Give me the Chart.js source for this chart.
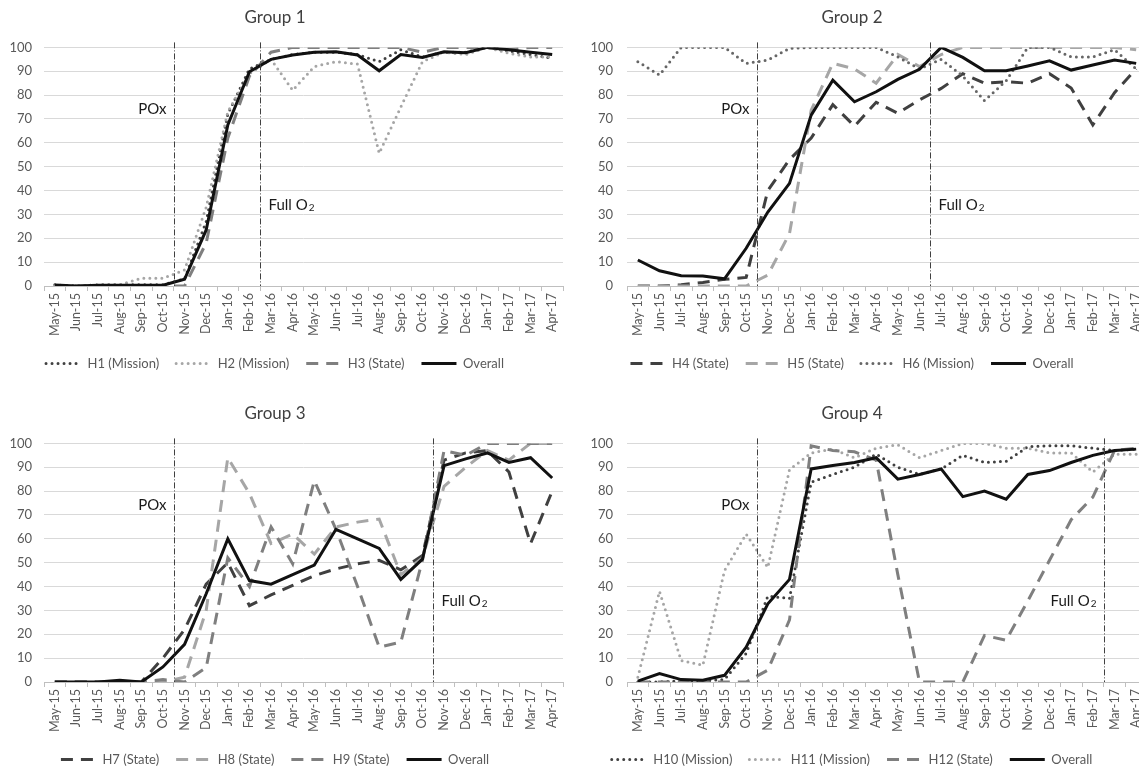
<!DOCTYPE html>
<html>
<head>
<meta charset="utf-8">
<script src="https://cdn.jsdelivr.net/npm/chart.js@4.4.0/dist/chart.umd.min.js"></script>
<style>
html, body { margin:0; padding:0; background:#fff; overflow:hidden; width:1139px; height:767px; position:relative; }
canvas { position:absolute; }
</style>
</head>
<body>
<canvas id="g1" width="583" height="380" style="left:-13px;top:0px"></canvas>
<canvas id="g2" width="590" height="380" style="left:557px;top:0px"></canvas>
<canvas id="g3" width="583" height="380" style="left:-13px;top:396px"></canvas>
<canvas id="g4" width="590" height="380" style="left:557px;top:396px"></canvas>
<script>
let meses = ["May-15","Jun-15","Jul-15","Aug-15","Sep-15","Oct-15","Nov-15","Dec-15","Jan-16","Feb-16","Mar-16","Apr-16",
"May-16","Jun-16","Jul-16","Aug-16","Sep-16","Oct-16","Nov-16","Dec-16","Jan-17","Feb-17","Mar-17","Apr-17"]

let eixoY = [0,10,20,30,40,50,60,70,80,90,100]

let g1H1 = [0.5,0,0.5,0.5,0.5,0.5,3,27,72,91,95,97,98,98,97,94,99,96,98,98,100,98.5,97,95.5]
let g1H2 = [0,0,0.5,0.5,3.2,3.2,6.7,33,73,89,95,82,92,94,93,55.6,75,94,98,97,100,97.5,96,96]
let g1H3 = [0,0,0,0,0,0,0,18,62,88,98,100,100,100,100,100,100,98,100,100,100,99,100,100]
let g1Geral = [0.4,0,0.3,0.3,0.3,0.3,2.8,23.5,67.5,89.8,95,96.8,98,98.2,96.8,90.2,97,95.8,98.2,97.8,100,99,98,97]

let g2H4 = [0,0,0.5,1.5,2.8,3.6,40,53,62,76,67,77,72.4,78,82.8,89,85,85.6,85,89,83,67.5,81,91]
let g2H5 = [0,0,0,0,0,0,4.6,22,73.7,93.3,91,85,97,92,97,100,100,100,100,100,100,100,100,99]
let g2H6 = [94,88.4,100,100,100,93.3,94.7,99.6,100,100,100,100,96,91,95,88,77.7,86,100,100,96,96,99,91]
let g2Geral = [10.9,6.4,4.3,4.2,3,15.8,31,43,71.6,86.3,77.2,81.4,86.6,90.8,100,95.8,90.2,90.2,92.2,94.4,90.5,92.6,94.7,93.3]

let g3H7 = [0,0,0,0,0,10,22,41,50,32,36.5,40.5,44.6,47.4,49.5,51,47,53,93,96,97,88,58,80]
let g3H8 = [0,0,0,0,0,0,2,30,94,79,58,62,53.6,65,67,68.3,45,52,82,90,97,93,100,100]
let g3H9 = [0,0,0,0,0,1,0,6,52,40,65,49.5,84.4,64,40,14.6,16.7,51,97,95,100,100,100,100]
let g3Geral = [0,0,0,0.7,0,6.3,15.8,37,60,42.5,41,45,49,64,60,56,43,51.5,90.7,93.5,96,92,94,85.5]

let g4H10 = [0,0,0.5,0.5,1,12,36,35,83.7,87,90,95.5,90,87,89.3,95,92,92.5,98.6,99,99,98,97,97.6]
let g4H11 = [2,38,9,7,46.7,62,48,89,96,97.6,94,98,99.4,94,97,100,100,98,98,96,96,88,95.5,95.5]
let g4H12 = [0,0,0,0,0,0,5,26,99,97,96.5,93,45,0,0,0,19.5,17.5,34,51,68,77.5,97,98]
let g4Geral = [0.4,3.5,1,0.7,2.8,14.6,32.8,43,89.3,90.7,92,94,85,87,89.3,77.7,80,76.6,87,88.6,92,95,97,97.6]

let escuro = "#404040"
let medio = "#7f7f7f"
let claro = "#a6a6a6"

function serie(nome, dados, cor, tipo, ordem){
let s = {label:nome, data:dados, borderColor:cor, backgroundColor:cor, borderWidth:3,
pointRadius:0, pointHoverRadius:0, tension:0, fill:false, order:ordem, borderJoinStyle:"miter"}
if(tipo == "ponto"){
s.borderDash = [0,6]
s.borderCapStyle = "round"
}else if(tipo == "traco"){
s.borderDash = [12,8]
s.borderCapStyle = "butt"
}else{
s.borderDash = []
s.borderCapStyle = "butt"
}
return s
}

// legenda com o mesmo traço da linha
function legendaLinhas(chart){
let itens = Chart.defaults.plugins.legend.labels.generateLabels(chart)
itens.forEach(i => {
let ds = chart.data.datasets[i.datasetIndex]
i.lineDash = ds.borderDash
i.lineCap = ds.borderCapStyle
i.lineWidth = ds.borderWidth
i.strokeStyle = ds.borderColor
})
return itens
}

let marcos = {
id:"marcos",
afterDatasetsDraw(chart, args, opts){
let x = chart.scales.x
let y = chart.scales.y
let ctx = chart.ctx
let passo = x.getPixelForValue(1) - x.getPixelForValue(0)
ctx.save()
opts.lista.forEach(m => {
let px = Math.round(x.getPixelForValue(m.indice) - passo/2) + 0.5
ctx.strokeStyle = "#404040"
ctx.lineWidth = 1
ctx.setLineDash([6,2,1,2])
ctx.beginPath()
ctx.moveTo(px, chart.chartArea.top - 5)
ctx.lineTo(px, chart.chartArea.bottom)
ctx.stroke()
ctx.setLineDash([])
let py = y.getPixelForValue(m.altura)
ctx.fillStyle = "#1a1a1a"
ctx.textBaseline = "middle"
ctx.textAlign = "left"
ctx.font = "15px Lato"
let w1 = ctx.measureText(m.texto).width
ctx.font = "10px Lato"
let w2 = m.sub ? ctx.measureText(m.sub).width + 1 : 0
let x0 = m.lado == "esq" ? px - 8 - w1 - w2 : px + 8
ctx.font = "15px Lato"
ctx.fillText(m.texto, x0, py)
if(m.sub){
ctx.font = "10px Lato"
ctx.fillText(m.sub, x0 + w1 + 1, py + 3)
}
})
ctx.restore()
}
}

function criarGrafico(id, titulo, series, larguraY, padY, padDir, lista){

new Chart(document.getElementById(id),{
type:"line",
data:{ labels:meses, datasets:series },
plugins:[marcos],
options:{
responsive:false,
animation:false,
events:[],
layout:{ padding:{left:0, right:padDir, top:0, bottom:0} },
plugins:{
marcos:{ lista:lista },
tooltip:{ enabled:false },
title:{
display:true,
text:titulo,
color:"#404040",
font:{family:"Lato", size:17, weight:"normal"},
padding:{top:7, bottom:20}
},
legend:{
position:"bottom",
labels:{
usePointStyle:true,
pointStyle:"line",
pointStyleWidth:35,
boxHeight:13,
padding:17,
color:"#595959",
font:{family:"Lato", size:13},
generateLabels:legendaLinhas,
sort:(a,b) => a.datasetIndex - b.datasetIndex
}
}
},
scales:{
x:{
offset:true,
grid:{ display:true, drawOnChartArea:false, drawTicks:true, tickLength:5, offset:true, color:"#bfbfbf" },
border:{ display:true, color:"#bfbfbf" },
ticks:{ autoSkip:false, maxRotation:90, minRotation:90, padding:2, color:"#595959", font:{family:"Lato", size:12.5} },
afterFit(s){ s.height = 54; s.paddingLeft = 0; s.paddingRight = 0 }
},
y:{
min:0,
max:100,
afterBuildTicks(s){ s.ticks = eixoY.map(v => ({value:v})) },
grid:{ color:"#d9d9d9", drawTicks:false },
border:{ display:false },
ticks:{ padding:padY, color:"#595959", font:{family:"Lato", size:13} },
afterFit(s){ s.width = larguraY; s.paddingTop = 0; s.paddingBottom = 0 }
}
}
}
})

}

criarGrafico("g1", "Group 1", [
serie("H1 (Mission)", g1H1, escuro, "ponto", 3),
serie("H2 (Mission)", g1H2, claro, "ponto", 2),
serie("H3 (State)", g1H3, medio, "traco", 1),
serie("Overall", g1Geral, "#111", "linha", 0)
], 57, 12, 7, [
{indice:6, texto:"POx", lado:"esq", altura:74},
{indice:10, texto:"Full O", sub:"2", lado:"dir", altura:34}
])

criarGrafico("g2", "Group 2", [
serie("H4 (State)", g2H4, escuro, "traco", 3),
serie("H5 (State)", g2H5, claro, "traco", 2),
serie("H6 (Mission)", g2H6, "#666666", "ponto", 1),
serie("Overall", g2Geral, "#111", "linha", 0)
], 70, 14, 0, [
{indice:6, texto:"POx", lado:"esq", altura:74},
{indice:14, texto:"Full O", sub:"2", lado:"dir", altura:34}
])

criarGrafico("g3", "Group 3", [
serie("H7 (State)", g3H7, escuro, "traco", 3),
serie("H8 (State)", g3H8, claro, "traco", 2),
serie("H9 (State)", g3H9, medio, "traco", 1),
serie("Overall", g3Geral, "#111", "linha", 0)
], 57, 12, 7, [
{indice:6, texto:"POx", lado:"esq", altura:74},
{indice:18, texto:"Full O", sub:"2", lado:"dir", altura:34}
])

criarGrafico("g4", "Group 4", [
serie("H10 (Mission)", g4H10, escuro, "ponto", 3),
serie("H11 (Mission)", g4H11, claro, "ponto", 2),
serie("H12 (State)", g4H12, medio, "traco", 1),
serie("Overall", g4Geral, "#111", "linha", 0)
], 70, 14, 0, [
{indice:6, texto:"POx", lado:"esq", altura:74},
{indice:22, texto:"Full O", sub:"2", lado:"esq", altura:34}
])
</script>
</body>
</html>
